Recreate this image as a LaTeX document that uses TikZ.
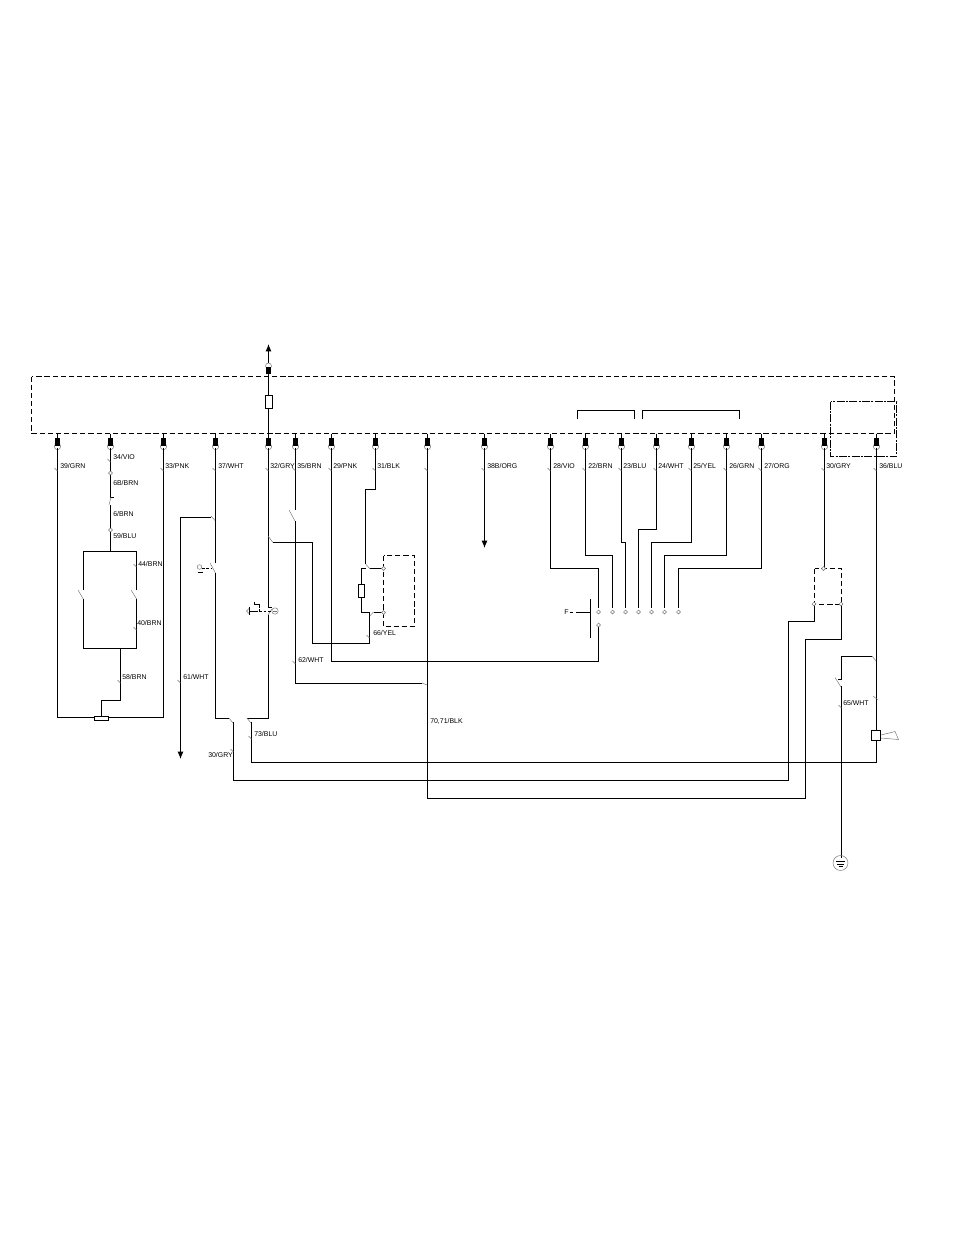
\documentclass[tikz,border=0pt]{standalone}
\usepackage{fontspec}
\setmainfont{Liberation Sans}
\usetikzlibrary{arrows.meta}
\tikzset{
 wire/.style={line width=0.78pt,black,line join=miter},
 thin grey/.style={line width=0.35pt,black!55},
 box/.style={line width=0.7pt,black,dash pattern=on 3.9pt off 2.2pt},
 dashdot/.style={line width=0.7pt,black,dash pattern=on 6pt off 1pt on 1.5pt off 1pt},
 wlabel/.style={anchor=west,inner sep=0pt,font=\fontsize{5.2pt}{6pt}\selectfont,text=black},
 openpin/.style={circle,draw=black!55,line width=0.35pt,fill=white,inner sep=0pt,minimum size=2.9pt},
 arrowed/.style={wire,-{Latex[length=5.5pt,width=4.5pt]}}
}
\newcommand{\slant}[2]{\draw[thin grey] (#1-3,#2-3) -- (#1,#2);}
\newcommand{\term}[2]{%
 \draw[black!55,line width=0.35pt,fill=white] (#1,#2+4.5) circle (3.2);
 \fill[black] (#1-2.5,#2-4) rectangle (#1+2.5,#2+4);}
\begin{document}
\begin{tikzpicture}[x=0.75pt,y=-0.75pt]
\useasboundingbox (0,0) rectangle (954,1235);
% pins on the lower edge of the unit
\foreach \n/\x in {p39/57.5,p34/110.5,p33/163.5,p37/215.5,p32/268.5,p35/295.5,p29/331.5,p31/375.5,p70/427.5,p38/484.5,p28/550.5,p22/585.5,p23/621.5,p24/656.5,p25/691.5,p26/726.5,p27/761.5,p30/824.5,p36/876.5}{
 \coordinate (\n) at (\x,433.5);
}
% bus unit
\node[draw=none,inner sep=0pt] (unit) at (462.5,404.5) {};
\draw[box] (31.5,376.5) rectangle (894.5,433.5);
\draw[dashdot] (830.5,401.5) rectangle (896.5,456.5);
% brackets
\coordinate (bra) at (577.5,419); \coordinate (brb) at (634.5,419);
\coordinate (brc) at (642.5,419); \coordinate (brd) at (739.5,419);
\draw[wire] (bra) -- ++(0,-8.5) -| (brb);
\draw[wire] (brc) -- ++(0,-8.5) -| (brd);
% top output
\coordinate (top) at (268.5,344);
\draw[arrowed] (p32) -- (top);
\node[draw,line width=0.5pt,fill=white,minimum width=5.5pt,minimum height=9.5pt,inner sep=0pt] (fuse) at (268.5,401.5) {};
\draw[black!55,line width=0.35pt,fill=white] (268.5,366) circle (3);
\fill[black] (266,367) rectangle (271,374);
% terminals
\foreach \x in {57.5,110.5,163.5,215.5,268.5,295.5,331.5,375.5,427.5,484.5,550.5,585.5,621.5,656.5,691.5,726.5,761.5,824.5,876.5}{
 \draw[wire] (\x,433.5) -- (\x,442);
 \term{\x}{442}
}
% left pair
\coordinate (fuseL) at (94.5,717.5); \coordinate (fuseR) at (108,717.5);
\draw[wire] (57.5,448) -- (57.5,717.5) -- (fuseL);
\draw[wire] (163.5,448) -- (163.5,717.5) -- (fuseR);
\node[draw,line width=0.5pt,fill=white,minimum width=10pt,minimum height=3.2pt,inner sep=0pt] (trim) at (101.3,718) {};
% 34 chain
\draw[wire] (110.5,448) -- (110.5,497.5) -- (114,497.5);
\draw[thin grey] (111,497) -- (109,505);
\draw[wire] (110.5,505) -- (110.5,530);
\node[openpin] at (110.5,473) {};
\node[openpin] at (110.5,530) {};
\draw[wire] (110.5,532) -- (110.5,551.5);
\draw[wire] (83.5,590) -- (83.5,551.5) -- (136.5,551.5) -- (136.5,590);
\draw[wire] (83.5,599) -- (83.5,648.5) -- (136.5,648.5) -- (136.5,599);
\draw[thin grey] (78,590) -- (83.3,599);
\draw[thin grey] (131,590) -- (136.7,599);
\draw[wire] (120.5,648.5) -- (120.5,700.5) -- (101.5,700.5) -- (101.5,716);
% 61
\draw[thin grey] (211,516) -- (215.5,521);
\draw[arrowed] (211,517.5) -- (180.5,517.5) -- (180.5,759);
% 37
\draw[wire] (215.5,448) -- (215.5,563);
\draw[thin grey] (210,563) -- (215.5,573);
\draw[wire] (215.5,573) -- (215.5,718.5) -- (229,718.5);
\draw[thin grey] (229,718) -- (233,723);
\draw[wire] (233.5,722) -- (233.5,780.5) -- (788.5,780.5) -- (788.5,621.5) -- (814.5,621.5) -- (814.5,604);
% 32 continuation
\draw[wire] (268.5,448) -- (268.5,607.5) -- (272,607.5);
\draw[thin grey] (268,615) -- (272,609);
\draw[wire] (268.5,615) -- (268.5,718.5) -- (247,718.5);
\draw[thin grey] (247,718) -- (251,723);
\draw[wire] (251.5,722) -- (251.5,762.5) -- (876.5,762.5);
% wire from 32 to resistor
\draw[thin grey] (268,536) -- (273,542.5);
\draw[wire] (273,542.5) -- (312.5,542.5) -- (312.5,643.5) -- (369.5,643.5) -- (369.5,612.5) -- (361.5,612.5) -- (361.5,568.5) -- (365.5,568.5);
\draw[thin grey] (365.7,564) -- (370,569);
\draw[wire] (370,568.5) -- (383,568.5);
\draw[thin grey] (369.7,616) -- (373.5,612);
\draw[wire] (373.5,612.5) -- (383,612.5);
\node[draw,line width=0.5pt,fill=white,minimum width=4.5pt,minimum height=10pt,inner sep=0pt] (res) at (361.5,590.5) {};
\draw[wire] (375.5,448) -- (375.5,489.5) -- (365.5,489.5) -- (365.5,564);
\draw[box] (383.5,555.5) rectangle (414.5,626.5);
\node[openpin] at (383.5,568.5) {};
\node[openpin] at (383.5,612.5) {};
% 35
\draw[wire] (295.5,448) -- (295.5,510);
\draw[thin grey] (289,510) -- (295,521);
\draw[wire] (295.5,521) -- (295.5,683.5) -- (422,683.5);
\draw[thin grey] (422,683) -- (427,685);
% 29
\draw[wire] (331.5,448) -- (331.5,661.5) -- (598.5,661.5) -- (598.5,627);
% 70
\draw[wire] (427.5,448) -- (427.5,798.5) -- (805.5,798.5) -- (805.5,639.5) -- (841.5,639.5) -- (841.5,604);
% 38
\draw[arrowed] (484.5,448) -- (484.5,548);
% harness
\draw[wire] (550.5,448) -- (550.5,568.5) -- (598.5,568.5) -- (598.5,608);
\draw[wire] (585.5,448) -- (585.5,555.5) -- (612.5,555.5) -- (612.5,608);
\draw[wire] (621.5,448) -- (621.5,542.5) -- (625.5,542.5) -- (625.5,608);
\draw[wire] (656.5,448) -- (656.5,529.5) -- (638.5,529.5) -- (638.5,608);
\draw[wire] (691.5,448) -- (691.5,542.5) -- (651.5,542.5) -- (651.5,608);
\draw[wire] (726.5,448) -- (726.5,555.5) -- (664.5,555.5) -- (664.5,608);
\draw[wire] (761.5,448) -- (761.5,568.5) -- (678.5,568.5) -- (678.5,608);
\foreach \x in {598.5,612.5,625.5,638.5,651.5,664.5,678.5}{\node[openpin] at (\x,612) {};}
\node[openpin] at (598.5,625) {};
\draw[wire] (590.5,599) -- (590.5,638);
\draw[wire] (590.5,612.5) -- (576,612.5);
\draw[wire] (569.5,612.5) -- (572.5,612.5);
\node[wlabel] (flabel) at (564,612) {F};
% 30 relay
\draw[wire] (824.5,448) -- (824.5,568.5);
\draw[box] (814.5,568.5) rectangle (841.5,604.5);
\node[openpin] at (823.5,568.5) {};
\node[openpin] at (814,604) {};
\node[openpin] at (841,604) {};
% 36
\draw[wire] (876.5,448) -- (876.5,762);
\node[draw,line width=0.7pt,fill=white,minimum width=7pt,minimum height=7pt,inner sep=0pt] (horn) at (876,735.5) {};
\draw[thin grey] (881,735) -- (895,731.5) -- (898.5,739.5) -- (881,738);
% 65
\draw[wire] (872,656.5) -- (841.5,656.5) -- (841.5,679.5) -- (838,679.5);
\draw[thin grey] (872,656) -- (876,661);
\draw[thin grey] (835,677.5) -- (841,687);
\draw[wire] (841.5,686) -- (841.5,858);
\draw[thin grey] (873,696) -- (878,700);
\draw[black!55,line width=0.35pt] (840.5,863) circle (7.5);
\draw[wire,line width=0.5pt] (836,861.5) -- (845,861.5) (837,864) -- (844,864) (838.5,866.5) -- (842.5,866.5);
% push button
\draw[black!55,line width=0.35pt] (275,611) circle (3.2);
\draw[thin grey] (273,611) -- (277,611);
\draw[wire,dash pattern=on 2pt off 1.5pt,line width=0.5pt] (259,611) -- (271,611);
\draw[wire,line width=0.55pt] (249.5,607) -- (249.5,615) (249.5,611) -- (258,611);
\draw[wire,line width=0.55pt] (254,601.5) -- (254,604.5) -- (259.5,604.5) -- (259.5,606);
\draw[wire,dash pattern=on 1.5pt off 1pt,line width=0.5pt] (259.5,606) -- (259.5,611);
\draw[thin grey] (249,608.5) -- (246.5,611) -- (249,613.5);
% left switch
\draw[black!55,line width=0.35pt] (199.5,567) circle (2.3);
\draw[wire,line width=0.55pt] (197.5,572) -- (202.5,572);
\draw[wire,line width=0.5pt,dash pattern=on 2pt off 1.3pt] (202,568.5) -- (212,568.5);
% label ticks
\foreach \x/\y in {57.5/471,110.5/462,163.5/471,215.5/471,268.5/471,295.5/471,331.5/471,375.5/471,427.5/471,484.5/471,550.5/471,585.5/471,621.5/471,656.5/471,691.5/471,726.5/471,761.5/471,824.5/471,876.5/471,136.5/567,136.5/630,120.5/683,180.5/683,295.5/664,369.5/638,251.5/739,233.5/752,841.5/708}{
 \slant{\x}{\y}
}
% labels
\foreach \n/\x/\y/\t in {l1/60/466/39\slash GRN,l2/113/457/34\slash VIO,l3/113/483/6B\slash BRN,l4/113/514/6\slash BRN,l5/113/536/59\slash BLU,l6/165/466/33\slash PNK,l7/218/466/37\slash WHT,l8/270/466/32\slash GRY,l9/297/466/35\slash BRN,l10/333/466/29\slash PNK,l11/377/466/31\slash BLK,l12/487/466/38B\slash ORG,l13/553/466/28\slash VIO,l14/588/466/22\slash BRN,l15/623/466/23\slash BLU,l16/658/466/24\slash WHT,l17/693/466/25\slash YEL,l18/729/466/26\slash GRN,l19/764/466/27\slash ORG,l20/826/466/30\slash GRY,l21/879/466/36\slash BLU,l22/138/564/44\slash BRN,l23/137/623/40\slash BRN,l24/122/677/58\slash BRN,l25/183/677/61\slash WHT,l26/298/660/62\slash WHT,l27/373/633/66\slash YEL,l29/254/734/73\slash BLU,l30/208/755/30\slash GRY,l31/843/703/65\slash WHT}{
 \node[wlabel] (\n) at (\x,\y) {\t};
}
\node[wlabel] (l28) at (430,721) {70,71/BLK};
\end{tikzpicture}
\end{document}
